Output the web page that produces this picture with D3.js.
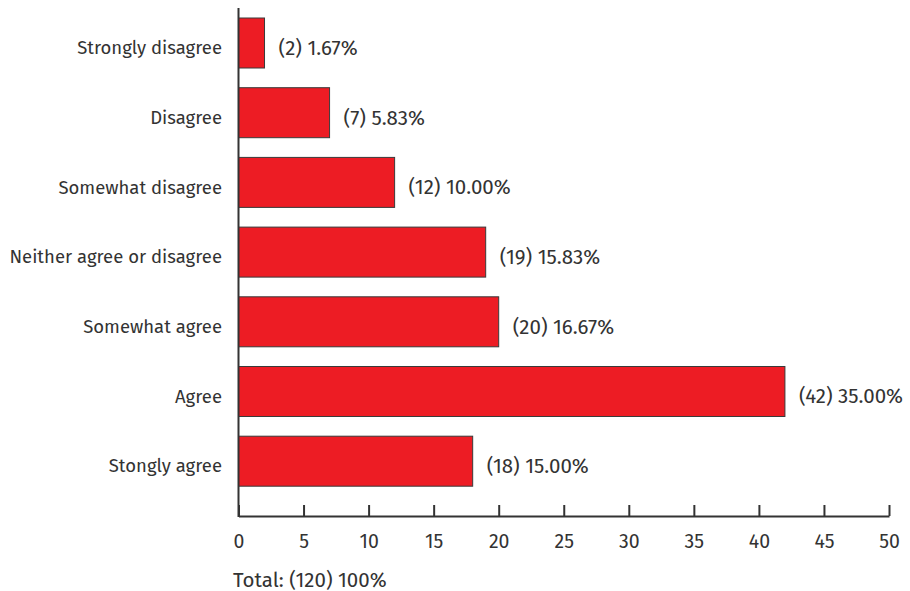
<!DOCTYPE html>
<html>
<head>
<meta charset="utf-8">
<script src="https://cdn.jsdelivr.net/npm/d3@7"></script>
<style>
  html, body { margin: 0; padding: 0; background: #fff; }
  svg text { font-family: "Fira Sans", "Noto Sans", "Open Sans", sans-serif; fill: #333; }
</style>
</head>
<body>
<svg id="chart" width="910" height="591"></svg>
<script>
// Survey responses (counts) and their share of the total
const categories = ["Strongly disagree", "Disagree", "Somewhat disagree",
  "Neither agree or disagree", "Somewhat agree", "Agree", "Stongly agree"];
const counts = [2, 7, 12, 19, 20, 42, 18];
const percents = ["1.67%", "5.83%", "10.00%", "15.83%", "16.67%", "35.00%", "15.00%"];
const xTicks = [0, 5, 10, 15, 20, 25, 30, 35, 40, 45, 50];
const totalLabel = "Total: (120) 100%";

const svg = d3.select("#chart");
const labelSize = 18.5;   // category labels
const tickSize = 19.5;    // axis tick labels
const valueSize = 20.5;   // value labels and total

const x = d3.scaleLinear().domain([0, 50]).range([238.5, 889]);
const y = d3.scaleBand().domain(categories)
  .range([8, 496.2]).paddingInner(0.2826).paddingOuter(0.1435);

const axisY = 516;

// Bars
svg.append("g").selectAll("rect")
  .data(categories)
  .join("rect")
  .attr("x", x(0))
  .attr("y", d => y(d))
  .attr("width", (d, i) => x(counts[i]) - x(0))
  .attr("height", y.bandwidth())
  .attr("fill", "#ed1c24")
  .attr("stroke", "#3a3a3a")
  .attr("stroke-width", 1);

// Value labels
svg.append("g").selectAll("text")
  .data(categories)
  .join("text")
  .attr("x", (d, i) => x(counts[i]) + 14)
  .attr("y", d => y(d) + y.bandwidth() / 2)
  .attr("dy", "0.58em")
  .attr("font-size", valueSize)
  .text((d, i) => `(${counts[i]}) ${percents[i]}`);

// Category labels
svg.append("g").selectAll("text")
  .data(categories)
  .join("text")
  .attr("x", 222)
  .attr("y", d => y(d) + y.bandwidth() / 2)
  .attr("dy", "0.6em")
  .attr("text-anchor", "end")
  .attr("font-size", labelSize)
  .text(d => d);

// X axis with inward ticks
const xAxis = d3.axisBottom(x).tickValues(xTicks).tickSizeInner(-11).tickSizeOuter(0).tickPadding(0);
const gx = svg.append("g").attr("transform", `translate(0,${axisY})`).call(xAxis);
gx.select(".domain").attr("stroke", "#333").attr("stroke-width", 2);
gx.selectAll(".tick line").attr("stroke", "#333").attr("stroke-width", 2);
gx.selectAll(".tick text")
  .attr("font-size", tickSize)
  .attr("y", 32)
  .attr("dy", "0")
  .attr("fill", "#333");

// Y axis line
svg.append("line")
  .attr("x1", x(0)).attr("x2", x(0))
  .attr("y1", 8).attr("y2", axisY + 1)
  .attr("stroke", "#333").attr("stroke-width", 2);

// Total
svg.append("text")
  .attr("x", 233)
  .attr("y", 587)
  .attr("font-size", valueSize)
  .text(totalLabel);
</script>
</body>
</html>
